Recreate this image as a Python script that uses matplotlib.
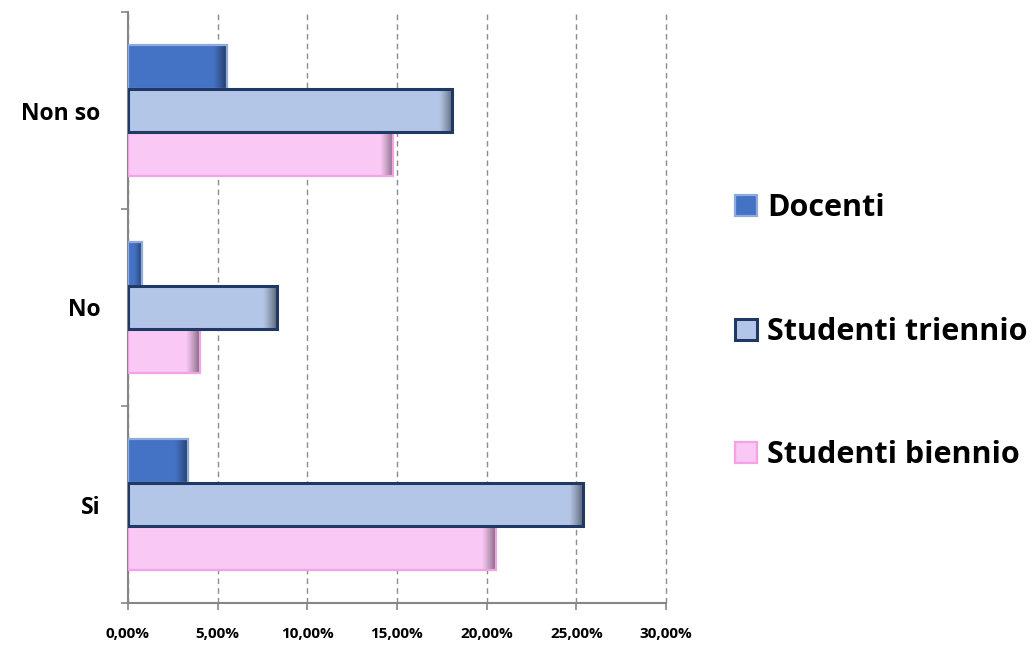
import numpy as np
import matplotlib
matplotlib.use('Agg')
from matplotlib import pyplot as plt
from matplotlib.patches import Patch
from matplotlib.ticker import FuncFormatter, FixedLocator

# categories from bottom to top
categories = ['Si', 'No', 'Non so']
series = ['Docenti', 'Studenti triennio', 'Studenti biennio']

# values as fractions
docenti = [0.0335, 0.0080, 0.0550]
triennio = [0.2535, 0.0830, 0.1807]
biennio = [0.2050, 0.0400, 0.1480]

x_ticks = [0.0, 0.05, 0.10, 0.15, 0.20, 0.25, 0.30]

fills = ['#4472C4', '#B4C6E7', '#F9C8F4']
edges = ['#8FAADC', '#1F3864', '#F3A2E6']
edge_widths = [1.6, 2.2, 1.6]

plt.rcParams['font.family'] = ['Open Sans', 'DejaVu Sans']

fig = plt.figure(figsize=(10.34, 6.47), dpi=100)
ax = fig.add_axes([128 / 1034, 44 / 647, 538 / 1034, 591 / 647])

bar_h = 1 / 4.5
y = np.arange(len(categories))
offsets = [bar_h, 0.0, -bar_h]
all_values = [docenti, triennio, biennio]

# dark gradient at the right end of every bar
shade = np.zeros((1, 64, 4))
shade[0, :, 3] = np.linspace(0, 0.55, 64) ** 1.2

for i, vals in enumerate(all_values):
    ypos = y + offsets[i]
    ax.barh(ypos, vals, height=bar_h, color=fills[i], edgecolor='none', zorder=2)
    for yy, v in zip(ypos, vals):
        g = min(0.0075, v * 0.6)
        ax.imshow(shade, extent=[v - g, v, yy - bar_h / 2, yy + bar_h / 2],
                  aspect='auto', interpolation='bilinear', zorder=3)
    ax.barh(ypos, vals, height=bar_h, facecolor='none', edgecolor=edges[i],
            linewidth=edge_widths[i], zorder=4 + (1 if i == 1 else 0))

ax.set_xlim(0, 0.30)
ax.set_ylim(-0.5, len(categories) - 0.5)

ax.xaxis.set_major_locator(FixedLocator(x_ticks))
ax.xaxis.set_major_formatter(FuncFormatter(lambda v, p: f'{v * 100:.2f}%'.replace('.', ',')))
ax.tick_params(axis='x', length=5, width=1.2, color='#868686', pad=12,
               labelsize=11)
for lab in ax.get_xticklabels():
    lab.set_fontweight('bold')

ax.set_yticks(y)
ax.set_yticklabels(categories, fontsize=16.5, fontweight='bold')
ax.tick_params(axis='y', which='major', length=0, pad=20)
ax.set_yticks(np.arange(-0.5, len(categories)), minor=True)
ax.tick_params(axis='y', which='minor', length=5, width=1.2, color='#868686')

ax.grid(axis='x', color='#8C8C8C', linestyle=(0, (4, 3)), linewidth=1)
ax.set_axisbelow(True)
for line in ax.get_xgridlines():
    line.set_clip_on(False)
for s in ['top', 'right']:
    ax.spines[s].set_visible(False)
for s in ['left', 'bottom']:
    ax.spines[s].set_color('#868686')
    ax.spines[s].set_linewidth(1.5)

handles = [Patch(facecolor=fills[i], edgecolor=edges[i], linewidth=edge_widths[i])
           for i in range(3)]
fig.legend(handles, series, loc='center left', bbox_to_anchor=(0.711, 0.487),
           frameon=False, prop={'family': 'Open Sans', 'weight': 'bold', 'size': 22},
           handlelength=0.7, handleheight=0.7, handletextpad=0.35,
           labelspacing=3.06, borderpad=0, borderaxespad=0)

fig.savefig('out.png', dpi=100)
